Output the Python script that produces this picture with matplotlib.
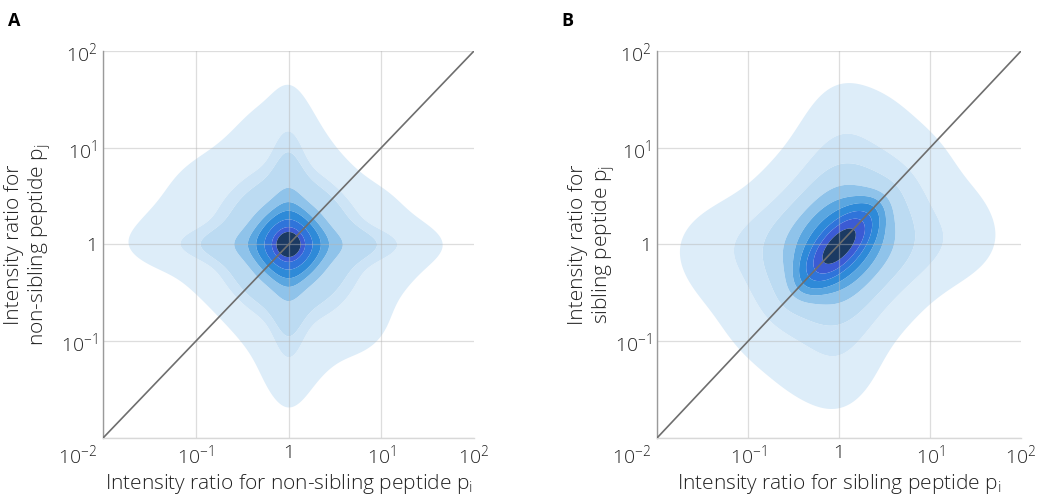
import numpy as np
import matplotlib
matplotlib.use("Agg")
import matplotlib.pyplot as plt
import matplotlib.transforms as mtransforms

plt.rcParams["font.family"] = ["Open Sans", "DejaVu Sans"]
plt.rcParams["mathtext.fontset"] = "custom"
plt.rcParams["mathtext.rm"] = "Open Sans:light"
plt.rcParams["mathtext.it"] = "Open Sans:light"
plt.rcParams["mathtext.bf"] = "Open Sans:bold"

# ---- log10-space density components (centre, spread, correlation, peak height) ----
# Panel A: non-sibling peptides
a_mu_u = [0.0, 0.0, 0.0, 0.0, 0.0, 0.0, 0.0, -0.1, 0.0, -1.45, 1.25, 0.75, -1.0, 0.95]
a_mu_v = [0.0, 0.0, 0.0, 0.0, 0.0, 0.0, 0.0, 1.2, -1.35, 0.1, 0.0, -0.8, 0.55, 0.45]
a_sd_u = [0.18, 0.32, 0.60, 0.12, 0.70, 0.90, 0.36, 0.30, 0.25, 0.30, 0.30, 0.22, 0.30, 0.25]
a_sd_v = [0.18, 0.32, 0.12, 0.60, 0.70, 0.36, 0.90, 0.30, 0.30, 0.25, 0.25, 0.22, 0.25, 0.20]
a_rho = [0.0, 0.0, 0.0, 0.0, -0.35, 0.0, 0.0, 0.0, 0.0, 0.0, 0.0, 0.0, 0.0, 0.0]
a_amp = [1.0, 0.40, 0.15, 0.15, 0.028, 0.022, 0.022, 0.004, 0.004, 0.005, 0.004,
         0.006, 0.004, 0.003]
# density levels as fractions of the peak
a_levels = [0.0056, 0.0237, 0.041, 0.122, 0.212, 0.317, 0.484, 0.683, 0.812]

# Panel B: sibling peptides
b_mu_u = [0.0, 0.0, 0.0, 0.0, 0.0, 0.3, 1.35, -1.35, -0.2]
b_mu_v = [-0.02, 0.0, 0.0, 0.0, 0.0, 1.25, 0.2, -0.15, -1.3]
b_sd_u = [0.215, 0.40, 0.70, 0.25, 0.75, 0.30, 0.30, 0.35, 0.35]
b_sd_v = [0.215, 0.40, 0.25, 0.70, 0.75, 0.30, 0.30, 0.35, 0.30]
b_rho = [0.69, 0.30, 0.0, 0.0, 0.3, 0.0, 0.0, 0.0, 0.0]
b_amp = [1.0, 0.30, 0.06, 0.06, 0.03, 0.006, 0.006, 0.006, 0.006]
b_levels = [0.005, 0.022, 0.052, 0.105, 0.16, 0.232, 0.352, 0.514, 0.75]

band_colors = ["#ddedf9", "#cde4f6", "#bcdbf2", "#8fc3ea", "#5aa6e0",
               "#2e8ad8", "#2f74da", "#3b5bd4", "#1b3a63"]

tick_vals = [1e-2, 1e-1, 1e0, 1e1, 1e2]
tick_labels = [r"$10^{-2}$", r"$10^{-1}$", "1", r"$10^{1}$", r"$10^{2}$"]


def density(U, V, mu_u, mu_v, sd_u, sd_v, rho, amp):
    F = np.zeros_like(U)
    for mu1, mu2, s1, s2, r, a in zip(mu_u, mu_v, sd_u, sd_v, rho, amp):
        d1 = (U - mu1) / s1
        d2 = (V - mu2) / s2
        q = (d1 ** 2 - 2 * r * d1 * d2 + d2 ** 2) / (1 - r ** 2)
        F += a * np.exp(-0.5 * q)
    return F / F.max()


g = np.linspace(-2.3, 2.3, 500)
U, V = np.meshgrid(g, g)

fig = plt.figure(figsize=(10.47, 4.97), dpi=100)
ax_a = fig.add_axes([0.0984, 0.1187, 0.3543, 0.7787])
ax_b = fig.add_axes([0.6275, 0.1187, 0.3477, 0.7787])

panels = [
    (ax_a, (a_mu_u, a_mu_v, a_sd_u, a_sd_v, a_rho, a_amp), a_levels,
     "non-sibling", -0.135),
    (ax_b, (b_mu_u, b_mu_v, b_sd_u, b_sd_v, b_rho, b_amp), b_levels,
     "sibling", -0.11),
]

for ax, comps, levels, kind, ylab_x in panels:
    F = density(U, V, *comps)
    ax.contourf(10 ** U, 10 ** V, F, levels=list(levels) + [1.01],
                colors=band_colors, antialiased=True, zorder=1)
    ax.set_xscale("log")
    ax.set_yscale("log")
    ax.set_xlim(1e-2, 1e2)
    ax.set_ylim(1e-2, 1e2)
    ax.set_xticks(tick_vals)
    ax.set_xticklabels(tick_labels)
    ax.set_yticks(tick_vals)
    # the shared corner value is written once, under the origin
    ax.set_yticklabels([""] + tick_labels[1:])
    ax.minorticks_off()
    ax.tick_params(length=0, labelsize=14, labelcolor="#222222", pad=4)
    for lab in ax.get_xticklabels() + ax.get_yticklabels():
        lab.set_fontweight("light")
    corner = ax.get_xticklabels()[0]
    corner.set_horizontalalignment("right")
    corner.set_transform(corner.get_transform() + mtransforms.ScaledTranslation(
        -6 / 100, 0, fig.dpi_scale_trans))

    # grid drawn over the filled contours
    for t in tick_vals[:-1]:
        ax.axvline(t, color="#b4b4b4", lw=0.9, alpha=0.45, zorder=2)
    for t in tick_vals:
        ax.axhline(t, color="#b4b4b4", lw=0.9, alpha=0.45, zorder=2)

    ax.plot([1e-2, 1e2], [1e-2, 1e2], color="#6e6e6e", lw=1.2, zorder=3)

    for side in ["top", "right"]:
        ax.spines[side].set_visible(False)
    ax.spines["left"].set_color("#9a9a9a")
    ax.spines["left"].set_linewidth(1.0)
    ax.spines["bottom"].set_color("#d8d8d8")
    ax.spines["bottom"].set_linewidth(1.0)

    ax.set_xlabel(r"Intensity ratio for %s peptide p$_\mathrm{i}$" % kind,
                  fontsize=15, fontweight="light", color="#222222")
    ax.set_ylabel("Intensity ratio for\n%s peptide p$_\\mathrm{j}$" % kind,
                  fontsize=15, fontweight="light", color="#222222",
                  linespacing=1.1)
    ax.xaxis.set_label_coords(0.5, -0.088)
    ax.yaxis.set_label_coords(ylab_x, 0.5)

fig.text(0.008, 0.975, "A", fontsize=13, fontweight="bold", va="top",
         family=["Open Sans", "DejaVu Sans"])
fig.text(0.536, 0.975, "B", fontsize=13, fontweight="bold", va="top",
         family=["Open Sans", "DejaVu Sans"])

fig.savefig("out.png", dpi=100)
